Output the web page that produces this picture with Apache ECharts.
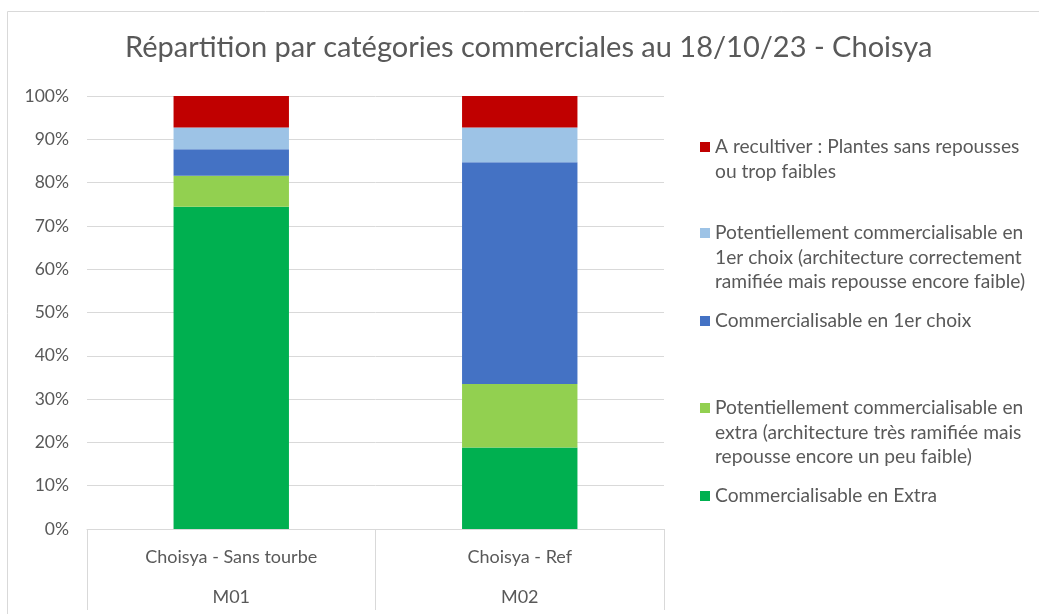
<!DOCTYPE html>
<html>
<head>
<meta charset="utf-8">
<script src="https://cdn.jsdelivr.net/npm/echarts@6/dist/echarts.min.js"></script>
<style>
  html, body { margin: 0; padding: 0; background: #fff; }
  #main { width: 1039px; height: 614px; }
</style>
</head>
<body>
<div id="main"></div>
<script>
// catégories (2 niveaux)
const categories = ['Choisya - Sans tourbe', 'Choisya - Ref'];
const groups = ['M01', 'M02'];
// séries, du bas vers le haut de la pile (en %)
const seriesNames = [
  'Commercialisable en Extra',
  'Potentiellement commercialisable en\nextra (architecture très ramifiée mais\nrepousse encore un peu faible)',
  'Commercialisable en 1er choix',
  'Potentiellement commercialisable en\n1er choix (architecture correctement\nramifiée mais repousse encore faible)',
  'A recultiver : Plantes sans repousses\nou trop faibles'
];
const extra = [74.4, 18.8];
const potExtra = [7.2, 14.7];
const premier = [6.1, 51.2];
const potPremier = [5.0, 8.0];
const recultiver = [7.3, 7.3];
const yTicks = [0, 10, 20, 30, 40, 50, 60, 70, 80, 90, 100];

const colors = ['#00B050', '#92D050', '#4472C4', '#9DC3E6', '#C00000'];
const values = [extra, potExtra, premier, potPremier, recultiver];

const FONT = 'Lato';
const GREY = '#595959';
const LH = 24.5;

// position verticale du 1er trait de chaque entrée de légende
const legendY = [496, 408, 321, 233, 147];

let chartDom = document.getElementById('main');
let myChart = echarts.init(chartDom);

let list = [];
seriesNames.forEach((name, i) => {
  list.push({
    name: name,
    type: 'bar',
    stack: 'total',
    barWidth: '40%',
    itemStyle: { color: colors[i] },
    data: values[i]
  });
});

// une légende par entrée, pour reproduire l'espacement d'Excel
// (lignes vides ajoutées en tête pour aligner le carré sur la 1re ligne)
let legends = seriesNames.map((name, i) => {
  const n = name.split('\n').length;
  const h = (2 * n - 1) * LH;
  return {
    data: [name],
    left: 700,
    top: legendY[i] - h / 2,
    padding: 0,
    icon: 'rect',
    itemWidth: 10,
    itemHeight: 10,
    itemGap: 0,
    selectedMode: false,
    formatter: (v) => '\n'.repeat(n - 1) + v,
    textStyle: {
      fontFamily: FONT,
      fontSize: 19.2,
      color: GREY,
      lineHeight: LH
    }
  };
});

let option = {
  animation: false,
  color: colors,
  title: {
    text: 'Répartition par catégories commerciales au 18/10/23 - Choisya',
    left: 120,
    top: 28,
    textStyle: { fontFamily: FONT, fontSize: 29, fontWeight: 'normal', color: GREY }
  },
  graphic: [{
    type: 'rect',
    shape: { x: 7.5, y: 11.5, width: 1100, height: 700 },
    style: { fill: 'none', stroke: '#D9D9D9', lineWidth: 1 },
    silent: true
  }],
  legend: legends,
  grid: { left: 87, right: 375, top: 96, bottom: 85 },
  xAxis: {
    type: 'category',
    data: categories,
    axisLine: { lineStyle: { color: '#D9D9D9' } },
    axisTick: { show: true, length: 81, lineStyle: { color: '#D9D9D9' } },
    axisLabel: {
      fontFamily: FONT,
      fontSize: 18,
      color: GREY,
      lineHeight: 20,
      margin: 18,
      formatter: (v, i) => v + '\n\n' + groups[i]
    }
  },
  yAxis: {
    type: 'value',
    min: yTicks[0],
    max: yTicks[yTicks.length - 1],
    interval: 10,
    axisLine: { show: false },
    axisTick: { show: false },
    splitLine: { lineStyle: { color: '#D9D9D9' } },
    axisLabel: { fontFamily: FONT, fontSize: 17.5, color: GREY, margin: 18, formatter: '{value}%' }
  },
  series: list
};

option && myChart.setOption(option);
</script>
</body>
</html>
